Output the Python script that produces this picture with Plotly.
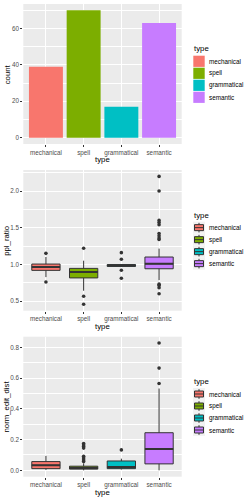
import plotly.graph_objects as go

# ---------------- data ----------------
types = ["mechanical", "spell", "grammatical", "semantic"]
colors = ["#F8766D", "#7CAE00", "#00BFC4", "#C77CFF"]

counts = [39, 70, 17, 63]

# ppl_ratio box statistics
ppl_q1 = [0.918, 0.815, 0.972, 0.940]
ppl_med = [0.963, 0.895, 0.986, 1.008]
ppl_q3 = [1.004, 0.945, 0.997, 1.100]
ppl_lo = [0.826, 0.640, 0.968, 0.785]
ppl_hi = [1.100, 1.050, 1.000, 1.215]
ppl_out = [
    [1.15, 0.76],
    [1.22, 0.565, 0.455],
    [1.16, 1.07, 0.92, 0.81],
    [2.20, 2.00, 1.60, 1.57, 1.54, 1.42, 1.39, 1.36, 1.34, 0.73, 0.71, 0.68, 0.60],
]

# norm_edit_dist box statistics
ned_q1 = [0.011, 0.008, 0.011, 0.042]
ned_med = [0.033, 0.016, 0.022, 0.139]
ned_q3 = [0.057, 0.027, 0.061, 0.245]
ned_lo = [0.003, 0.000, 0.005, 0.000]
ned_hi = [0.094, 0.045, 0.076, 0.533]
ned_out = [
    [],
    [0.175, 0.165, 0.155, 0.145, 0.091, 0.080, 0.068, 0.057],
    [0.133],
    [0.829, 0.666, 0.566],
]

count_ticks = [0, 20, 40, 60]
ppl_ticks = [0.5, 1.0, 1.5, 2.0]
ned_ticks = [0.0, 0.2, 0.4, 0.6, 0.8]

x_title = "type"
y_titles = ["count", "ppl_ratio", "norm_edit_dist"]
legend_title = "type"

# ---------------- layout helpers ----------------
W, H = 250, 500
FONT = "Liberation Sans, Arial, sans-serif"
GRID = "white"
DARK = "#333333"
TXTCOL = "#4D4D4D"
TICK_FS = 6.3
TITLE_FS = 7.8


def fx(p):
    return p / W


def fy(p):
    return 1 - p / H


def expand(lo, hi, f=0.05):
    d = hi - lo
    return [lo - f * d, hi + f * d]


fig = go.Figure()

# panel 1 : bars
for i, t in enumerate(types):
    fig.add_trace(go.Bar(
        x=[t], y=[counts[i]], name=t, width=0.9,
        marker=dict(color=colors[i], line=dict(width=0)),
        xaxis="x", yaxis="y", showlegend=False,
    ))


# panels 2 and 3 : boxes
def add_boxes(q1, med, q3, lo, hi, outs, xa, ya):
    for i, t in enumerate(types):
        fig.add_trace(go.Box(
            x=[t], q1=[q1[i]], median=[med[i]], q3=[q3[i]],
            lowerfence=[lo[i]], upperfence=[hi[i]],
            name=t, width=0.75, whiskerwidth=0, boxpoints=False,
            fillcolor=colors[i], line=dict(color=DARK, width=1),
            xaxis=xa, yaxis=ya, showlegend=False,
        ))
        # thicker median line (ggplot fatten = 2)
        fig.add_trace(go.Box(
            x=[t], q1=[med[i]], median=[med[i]], q3=[med[i]],
            lowerfence=[med[i]], upperfence=[med[i]],
            name=t, width=0.75, whiskerwidth=0, boxpoints=False,
            fillcolor="rgba(0,0,0,0)", line=dict(color=DARK, width=2),
            xaxis=xa, yaxis=ya, showlegend=False, hoverinfo="skip",
        ))
    for i, t in enumerate(types):
        if outs[i]:
            fig.add_trace(go.Scatter(
                x=[t] * len(outs[i]), y=outs[i], mode="markers",
                marker=dict(color=DARK, size=3.6, line=dict(width=0)),
                showlegend=False, xaxis=xa, yaxis=ya,
            ))


add_boxes(ppl_q1, ppl_med, ppl_q3, ppl_lo, ppl_hi, ppl_out, "x2", "y2")
add_boxes(ned_q1, ned_med, ned_q3, ned_lo, ned_hi, ned_out, "x3", "y3")

ppl_all = ppl_lo + ppl_hi + [v for o in ppl_out for v in o]
ned_all = ned_lo + ned_hi + [v for o in ned_out for v in o]

PX_L, PX_R = 23.3, 181.7
panels = [(4, 144), (170, 310.7), (336.7, 476.7)]
yranges = [
    expand(0, max(counts)),
    expand(min(ppl_all), max(ppl_all)),
    expand(min(ned_all), max(ned_all)),
]
yticks = [count_ticks, ppl_ticks, ned_ticks]
yfmt = ["d", ".1f", ".1f"]
minor_d = [20, 0.5, 0.2]
minor_0 = [10, 0.25, 0.1]
ytitle_x = [7.3, 6.5, 6.8]

layout = dict(
    width=W, height=H, margin=dict(l=0, r=0, t=0, b=0),
    paper_bgcolor="white", plot_bgcolor="#EBEBEB",
    barmode="overlay", boxmode="overlay",
    font=dict(family=FONT, color="black"),
    showlegend=False,
)

shapes = []
annotations = []

for k in range(3):
    sx = "" if k == 0 else str(k + 1)
    top, bot = panels[k]
    layout["xaxis" + sx] = dict(
        domain=[fx(PX_L), fx(PX_R)], anchor="y" + sx, type="category",
        categoryorder="array", categoryarray=types, range=[-0.6, 3.6],
        showgrid=True, gridcolor=GRID, gridwidth=1, zeroline=False,
        showline=False, ticks="outside", ticklen=2, tickwidth=0.8,
        tickcolor=DARK, tickfont=dict(size=TICK_FS, color=TXTCOL, family=FONT),
        automargin=False, fixedrange=True,
    )
    layout["yaxis" + sx] = dict(
        domain=[fy(bot), fy(top)], anchor="x" + sx, range=yranges[k],
        tickmode="array", tickvals=yticks[k], tickformat=yfmt[k],
        showgrid=True, gridcolor=GRID, gridwidth=1, zeroline=False,
        showline=False, ticks="outside", ticklen=2, tickwidth=0.8,
        tickcolor=DARK, tickfont=dict(size=TICK_FS, color=TXTCOL, family=FONT),
        minor=dict(tick0=minor_0[k], dtick=minor_d[k], showgrid=True,
                   gridcolor=GRID, gridwidth=0.5, ticks=""),
        automargin=False, fixedrange=True,
    )

    # axis titles
    annotations.append(dict(
        text=x_title, xref="paper", yref="paper",
        x=fx((PX_L + PX_R) / 2), y=fy(bot + 15.3), xanchor="center", yanchor="middle",
        showarrow=False, font=dict(size=TITLE_FS, color="black", family=FONT),
    ))
    annotations.append(dict(
        text=y_titles[k], xref="paper", yref="paper", textangle=-90,
        x=fx(ytitle_x[k]), y=fy((top + bot) / 2), xanchor="center", yanchor="middle",
        showarrow=False, font=dict(size=TITLE_FS, color="black", family=FONT),
    ))

    # legend (ggplot style, centred on the panel)
    cy0 = (top + bot) / 2
    key_cy = [cy0 - 18 + 5.3 + 12 * j for j in range(len(types))]
    KX0, KS = 193.0, 12.0
    kcx = KX0 + KS / 2
    annotations.append(dict(
        text=legend_title, xref="paper", yref="paper",
        x=fx(KX0 - 1), y=fy(key_cy[0] - 12.3), xanchor="left", yanchor="middle",
        showarrow=False, font=dict(size=TITLE_FS, color="black", family=FONT),
    ))
    for j, t in enumerate(types):
        cy = key_cy[j]
        if k == 0:
            shapes.append(dict(
                type="rect", xref="paper", yref="paper",
                x0=fx(KX0 + 0.3), x1=fx(KX0 + KS - 0.3),
                y0=fy(cy - KS / 2 + 0.4), y1=fy(cy + KS / 2 - 0.4),
                fillcolor=colors[j], line=dict(width=0),
            ))
        else:
            shapes.append(dict(
                type="rect", xref="paper", yref="paper",
                x0=fx(KX0), x1=fx(KX0 + KS),
                y0=fy(cy - KS / 2), y1=fy(cy + KS / 2),
                fillcolor="#F2F2F2", line=dict(width=0),
            ))
            for a, b in [(0.4, 0.25), (-0.25, -0.4)]:
                shapes.append(dict(
                    type="line", xref="paper", yref="paper",
                    x0=fx(kcx), x1=fx(kcx),
                    y0=fy(cy - a * KS), y1=fy(cy - b * KS),
                    line=dict(color=DARK, width=1),
                ))
            shapes.append(dict(
                type="rect", xref="paper", yref="paper",
                x0=fx(kcx - 0.375 * KS), x1=fx(kcx + 0.375 * KS),
                y0=fy(cy + 0.25 * KS), y1=fy(cy - 0.25 * KS),
                fillcolor=colors[j], line=dict(color=DARK, width=1),
            ))
            shapes.append(dict(
                type="line", xref="paper", yref="paper",
                x0=fx(kcx - 0.375 * KS), x1=fx(kcx + 0.375 * KS),
                y0=fy(cy), y1=fy(cy),
                line=dict(color=DARK, width=1),
            ))
        annotations.append(dict(
            text=t, xref="paper", yref="paper",
            x=fx(206.7), y=fy(cy), xanchor="left", yanchor="middle",
            showarrow=False, font=dict(size=TICK_FS, color="black", family=FONT),
        ))

layout["shapes"] = shapes
layout["annotations"] = annotations
fig.update_layout(**layout)
fig.write_html(
    "out.html",
    config={"displayModeBar": False, "staticPlot": False},
    post_script="document.body.style.margin='0';document.body.style.overflow='hidden';",
)
